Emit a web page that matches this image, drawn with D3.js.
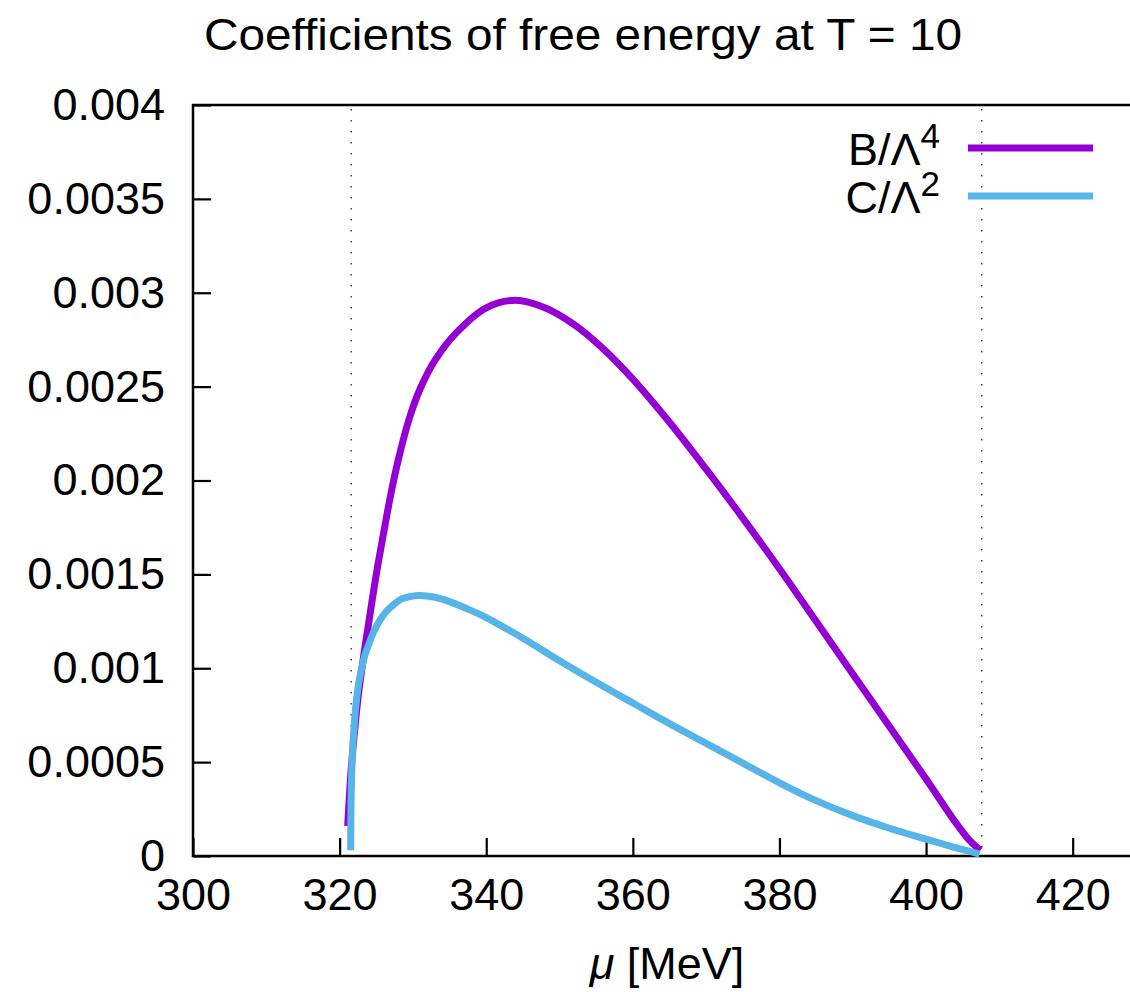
<!DOCTYPE html>
<html>
<head>
<meta charset="utf-8">
<script src="https://cdn.jsdelivr.net/npm/d3@7"></script>
<style>
  html, body { margin: 0; padding: 0; background: #fff; overflow: hidden; }
  text { font-family: "Liberation Sans", Arial, Helvetica, sans-serif; fill: #000; }
</style>
</head>
<body>
<div id="chart"></div>
<script>
// values
const muB  = [321.1, 321.5, 322.0, 322.6, 323.3, 324.0, 325.0, 326.0, 327.0, 328.0, 329.5, 331.0, 333.0,
              336.0, 340.0, 344.0, 348.0, 352.0, 356.0, 360.0, 365.0, 370.0, 375.0, 380.0,
              385.0, 390.0, 395.0, 400.0, 404.0, 406.0, 407.4];
const valB = [0.00016, 0.00042, 0.00065, 0.00087, 0.00107, 0.00125, 0.00150, 0.00172, 0.00193, 0.00211,
              0.00233, 0.00249, 0.00264, 0.00279, 0.00292, 0.00296, 0.00292, 0.00283, 0.00270,
              0.00254, 0.00231, 0.00206, 0.00180, 0.00153, 0.00125, 0.00097, 0.00069, 0.00041, 0.00018,
              0.00008, 0.00003];

const muC  = [321.51, 321.66, 322.05, 322.3, 322.6, 323.0, 323.45, 324.0, 324.6, 325.4, 326.3, 327.4,
              328.5, 330.8, 333.0, 335.0, 337.5, 340.0, 345.0, 350.0, 355.0, 360.0, 365.0, 370.0, 375.0,
              380.0, 385.0, 390.0, 395.0, 400.0, 404.0, 407.3];
const valC = [0.00003, 0.00046, 0.00073, 0.00083, 0.00092, 0.00100, 0.00107, 0.00113, 0.00119, 0.00125,
              0.00130, 0.00134, 0.00137, 0.001388, 0.001378, 0.001355, 0.001315, 0.00127, 0.00116, 0.00104,
              0.000925, 0.000815, 0.000705, 0.000600, 0.000495, 0.000390, 0.000295, 0.000215, 0.000148,
              0.000090, 0.000045, 0.00001];

const guideMu = [321.57, 407.6];

const xTicks = [300, 320, 340, 360, 380, 400, 420];
const yTicks = [0, 0.0005, 0.001, 0.0015, 0.002, 0.0025, 0.003, 0.0035, 0.004];
const yTickLabels = ["0", "0.0005", "0.001", "0.0015", "0.002", "0.0025", "0.003", "0.0035", "0.004"];

const width = 1130, height = 992;
const plot = {left: 193, top: 105, bottom: 856, right: 1146};

const svg = d3.select("#chart").append("svg")
    .attr("width", width)
    .attr("height", height);

const x = d3.scaleLinear().domain([300, 430]).range([plot.left, plot.right]);
const y = d3.scaleLinear().domain([0, 0.004]).range([plot.bottom, plot.top]);

// title
svg.append("text")
    .attr("x", 583)
    .attr("y", 50)
    .attr("text-anchor", "middle")
    .attr("textLength", 758)
    .attr("lengthAdjust", "spacingAndGlyphs")
    .style("font-size", "44px")
    .text("Coefficients of free energy at T = 10");

// dotted guide lines
svg.append("g").selectAll("line")
    .data(guideMu)
    .join("line")
    .attr("x1", d => x(d)).attr("x2", d => x(d))
    .attr("y1", plot.top + 4).attr("y2", plot.bottom)
    .attr("stroke", "#222")
    .attr("stroke-width", 1.3)
    .attr("stroke-dasharray", "1.6 9.4");

// axes (ticks pointing inward, gnuplot style)
const xAxis = svg.append("g")
    .attr("transform", `translate(0,${plot.bottom})`)
    .call(d3.axisBottom(x).tickValues(xTicks).tickSizeInner(-18).tickSizeOuter(0).tickPadding(22));

const yAxis = svg.append("g")
    .attr("transform", `translate(${plot.left},0)`)
    .call(d3.axisLeft(y).tickValues(yTicks).tickSizeInner(-18).tickSizeOuter(0).tickPadding(28)
        .tickFormat((d, i) => yTickLabels[i]));

[xAxis, yAxis].forEach(g => {
    g.select(".domain").remove();
    g.selectAll(".tick line").attr("stroke", "#000").attr("stroke-width", 2.2);
    g.selectAll(".tick text")
        .style("font-size", "45px")
        .style("font-family", "'Liberation Sans', Arial, Helvetica, sans-serif")
        .attr("fill", "#000");
});

// border
svg.append("rect")
    .attr("x", plot.left).attr("y", plot.top)
    .attr("width", plot.right - plot.left).attr("height", plot.bottom - plot.top)
    .attr("fill", "none")
    .attr("stroke", "#000")
    .attr("stroke-width", 2.5);

// curves
const line = d3.line()
    .x(d => x(d[0]))
    .y(d => y(d[1]))
    .curve(d3.curveCatmullRom.alpha(0.5));

const series = [
    {name: "B", mu: muB, val: valB, color: "#9400D3"},
    {name: "C", mu: muC, val: valC, color: "#56B4E9"}
];

svg.append("g").selectAll("path")
    .data(series)
    .join("path")
    .attr("d", s => line(s.mu.map((m, i) => [m, s.val[i]])))
    .attr("fill", "none")
    .attr("stroke", s => s.color)
    .attr("stroke-width", 7)
    .attr("stroke-linejoin", "round");

// legend
const legend = svg.append("g").selectAll("g")
    .data([
        {base: "B/Λ", sup: "4", color: "#9400D3", y: 148},
        {base: "C/Λ", sup: "2", color: "#56B4E9", y: 196}
    ])
    .join("g");

legend.append("line")
    .attr("x1", 968).attr("x2", 1093)
    .attr("y1", d => d.y).attr("y2", d => d.y)
    .attr("stroke", d => d.color)
    .attr("stroke-width", 7);

const lt = legend.append("text")
    .attr("x", 940)
    .attr("y", d => d.y + 17)
    .attr("text-anchor", "end")
    .style("font-size", "45px");
lt.append("tspan").text(d => d.base);
lt.append("tspan")
    .attr("dy", -17)
    .style("font-size", "35px")
    .text(d => d.sup);

// x axis label
const xl = svg.append("text")
    .attr("x", 667)
    .attr("y", 979)
    .attr("text-anchor", "middle")
    .style("font-size", "45px");
xl.append("tspan").style("font-style", "italic").text("μ");
xl.append("tspan").text(" [MeV]");
</script>
</body>
</html>
